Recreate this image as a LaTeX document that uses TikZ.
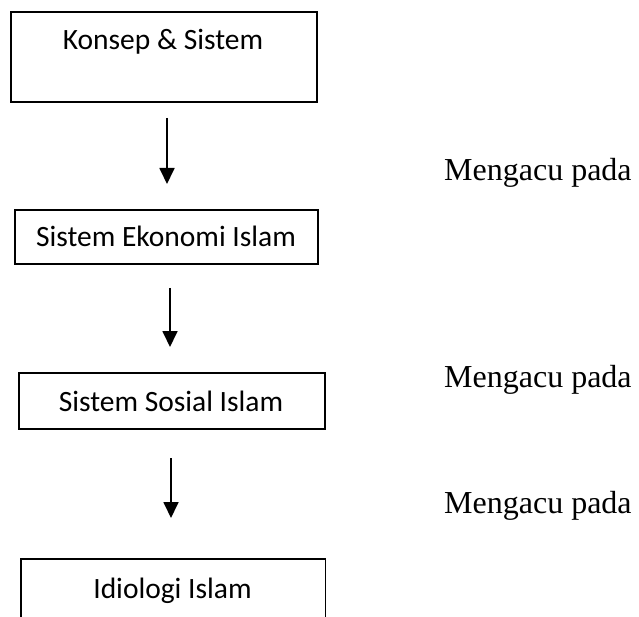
\documentclass[tikz,border=0pt]{standalone}
\usepackage{fontspec}
\setmainfont{Liberation Serif}
\newfontfamily\boxfont{Carlito}
\usetikzlibrary{arrows.meta}
\begin{document}
\begin{tikzpicture}[x=1pt,y=-1pt,
  boxframe/.style={draw=black,line width=1.8pt,rectangle,inner sep=0pt,anchor=north west},
  boxtext/.style={font=\boxfont\fontsize{29.5}{34}\selectfont,anchor=base,inner sep=0pt},
  sidetext/.style={font=\fontsize{32}{36}\selectfont,anchor=base west,inner sep=0pt},
  flow/.style={line width=1.8pt,-{Triangle[width=15pt,length=16pt]}}]
\useasboundingbox (0,0) rectangle (639,617);
% boxes
\node[boxframe,minimum width=306pt,minimum height=90pt] (b1) at (10,11) {};
\node[boxtext] (t1) at (163,50) {Konsep \& Sistem};
\node[boxframe,minimum width=303pt,minimum height=54pt] (b2) at (14,209) {};
\node[boxtext] (t2) at (166,247) {Sistem Ekonomi Islam};
\node[boxframe,minimum width=306pt,minimum height=56pt] (b3) at (18,372) {};
\node[boxtext] (t3) at (171,411) {Sistem Sosial Islam};
\node[inner sep=0pt,minimum width=304pt,minimum height=70pt,anchor=north west] (b4) at (21,559) {};
\draw[line width=1.8pt] (b4.south west) -- (b4.north west) -- (b4.north east) -- (b4.south east);
\node[boxtext] (t4) at (172.5,598) {Idiologi Islam};
% arrows
\coordinate (a1s) at (167,118); \coordinate (a1e) at (167,184);
\coordinate (a2s) at (170,288); \coordinate (a2e) at (170,347);
\coordinate (a3s) at (171,458); \coordinate (a3e) at (171,518);
\draw[flow] (a1s) -- (a1e);
\draw[flow] (a2s) -- (a2e);
\draw[flow] (a3s) -- (a3e);
% side labels
\node[sidetext] (m1) at (444,181) {Mengacu pada};
\node[sidetext] (m2) at (444,387) {Mengacu pada};
\node[sidetext] (m3) at (444,513) {Mengacu pada};
\end{tikzpicture}
\end{document}
